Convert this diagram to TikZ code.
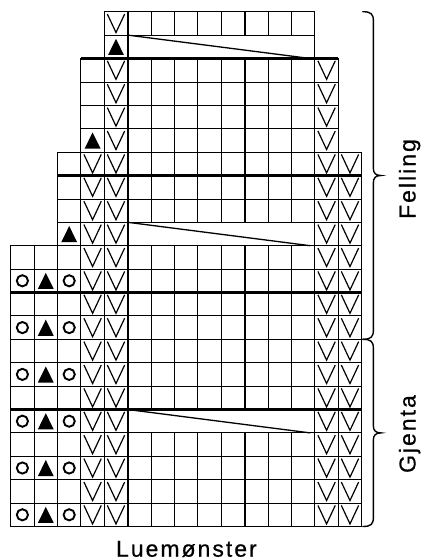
\documentclass[tikz,border=0pt]{standalone}
\usepackage{fontspec}
\setmainfont{Liberation Sans}
\newfontfamily\lblfont[FakeBold=0.6]{Liberation Sans}
\newcommand{\lsp}{\kern2pt}
\begin{document}
\begin{tikzpicture}[x=23.4pt,y=-23.4pt,
  gridline/.style={line width=0.8pt},
  thickline/.style={line width=2.2pt},
  vsym/.style={line width=1.2pt, line join=miter},
  trisym/.style={fill=black},
  circsym/.style={line width=1.9pt},
  diagline/.style={line width=1.3pt},
  bracestyle/.style={line width=1.4pt, line cap=round},
  lbl/.style={font=\lblfont\fontsize{23}{27}\selectfont, inner sep=0pt}]
\useasboundingbox (-0.457,-0.5) rectangle (17.662,23.432);
% grid cells
\foreach \j/\L/\R in {0/4/12,1/4/12,2/3/13,3/3/13,4/3/13,5/3/13,6/2/14,7/2/14,8/2/14,9/2/14,
  10/0/14,11/0/14,12/0/14,13/0/14,14/0/14,15/0/14,16/0/14,17/0/14,18/0/14,19/0/14,20/0/14,21/0/14}{
  \foreach \i in {\L,...,\R}{
    \pgfmathtruncatemacro\ismerged{((\j==1)+(\j==9)+(\j==17))*(\i>=5)*(\i<=12)}
    \ifnum\ismerged=0 \draw[gridline] (\i,\j) rectangle ++(1,1);\fi
  }
}
\foreach \j in {1,9,17}{
  \draw[gridline] (5,\j) rectangle (13,\j+1);
  \draw[diagline] (5,\j) -- (12.8,\j+1);
}
% thick lines
\draw[thickline] (5,0) -- (5,22);
\draw[thickline] (10,0) -- (10,1) (10,2) -- (10,9) (10,10) -- (10,17) (10,18) -- (10,22);
\draw[thickline] (3,2) -- (14,2) (2,7) -- (15,7) (0,12) -- (15,12) (0,17) -- (15,17);
% V symbols
\foreach \i/\j in {4/0}{
  \draw[vsym] (\i+0.13,\j+0.1) -- (\i+0.5,\j+0.89) -- (\i+0.87,\j+0.1);}
\foreach \j in {2,...,21}{
  \foreach \i in {4,13}{
    \draw[vsym] (\i+0.13,\j+0.1) -- (\i+0.5,\j+0.89) -- (\i+0.87,\j+0.1);}}
\foreach \j in {6,...,21}{
  \foreach \i in {3,14}{
    \draw[vsym] (\i+0.13,\j+0.1) -- (\i+0.5,\j+0.89) -- (\i+0.87,\j+0.1);}}
% triangles
\foreach \i/\j in {4/1,3/5,2/9,1/11,1/13,1/15,1/17,1/19,1/21}{
  \fill[trisym] (\i+0.16,\j+0.85) -- (\i+0.5,\j+0.16) -- (\i+0.84,\j+0.85) -- cycle;}
% circles
\foreach \j in {11,13,15,17,19,21}{
  \foreach \i in {0,2}{
    \draw[circsym] (\i+0.5,\j+0.5) circle [radius=5.6pt];}}
% braces
\draw[bracestyle] (15.05,0) .. controls (15.4,0) and (15.5,0.1) .. (15.5,0.4) -- (15.5,6.7)
  .. controls (15.5,6.9) and (15.6,7) .. (15.82,7) .. controls (15.6,7) and (15.5,7.1) .. (15.5,7.3)
  -- (15.5,13.6) .. controls (15.5,13.9) and (15.4,14) .. (15.05,14);
\draw[bracestyle] (15.05,14) .. controls (15.4,14) and (15.5,14.1) .. (15.5,14.4) -- (15.5,17.7)
  .. controls (15.5,17.9) and (15.6,18) .. (15.82,18) .. controls (15.6,18) and (15.5,18.1) .. (15.5,18.3)
  -- (15.5,21.6) .. controls (15.5,21.9) and (15.4,22) .. (15.05,22);
% labels
\node[lbl, rotate=90, anchor=base] (felling) at (17.3,7.15) {F\lsp e\lsp l\lsp l\lsp i\lsp n\lsp g};
\node[lbl, rotate=90, anchor=base] (gjenta) at (17.3,18.05) {G\lsp j\lsp e\lsp n\lsp t\lsp a};
\node[lbl, anchor=base] (luem) at (7.51,23.29) {L\lsp u\lsp e\lsp m\lsp ø\lsp n\lsp s\lsp t\lsp e\lsp r};
\end{tikzpicture}
\end{document}
